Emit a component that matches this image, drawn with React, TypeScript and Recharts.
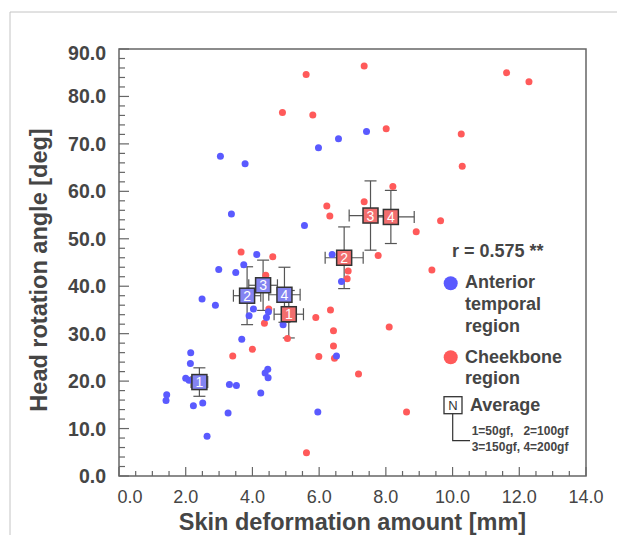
import { ErrorBar, ReferenceArea, Scatter, ScatterChart, XAxis, YAxis } from "recharts"

const FONT = "'Liberation Sans', Arial, sans-serif"
const TEXT = "#454545"

// Anterior temporal region, [skin deformation mm, head rotation deg]
const anteriorX = [
  6.58, 7.42, 5.98, 3.04, 3.78, 3.37, 5.56, 4.13, 6.39, 3.74, 2.99, 3.5, 6.67, 2.49, 2.89, 4.03, 3.9, 4.42, 4.48,
  4.92, 3.68, 6.52, 2.15, 2.14, 2.0, 2.1, 4.46, 4.38, 4.47, 3.31, 3.52, 4.25, 1.43, 1.41, 2.51, 2.23, 3.27, 5.96, 2.64,
]
const anteriorY = [
  71.1, 72.6, 69.2, 67.4, 65.8, 55.2, 52.8, 46.7, 46.7, 44.5, 43.5, 42.9, 41.0, 37.3, 36.0, 35.2, 33.8, 33.4, 34.6,
  31.9, 28.8, 25.3, 26.0, 23.7, 20.6, 20.2, 22.5, 21.7, 20.7, 19.3, 19.1, 17.5, 17.1, 15.9, 15.4, 14.8, 13.3, 13.5, 8.4,
]

// Cheekbone region
const cheekX = [
  7.35, 5.61, 11.62, 12.29, 4.9, 5.81, 8.01, 10.26, 10.29, 8.21, 7.35, 6.23, 6.32, 9.64, 8.91, 3.66, 4.61, 7.77, 6.87,
  6.84, 9.38, 4.4, 4.49, 4.36, 6.34, 5.9, 6.43, 6.43, 6.46, 5.99, 8.1, 5.05, 4.0, 3.41, 7.18, 8.62, 5.62,
]
const cheekY = [
  86.4, 84.6, 85.0, 83.1, 76.6, 76.1, 73.2, 72.1, 65.3, 61.0, 57.8, 56.9, 54.8, 53.8, 51.5, 47.2, 46.2, 46.5, 43.2,
  41.6, 43.4, 42.3, 35.2, 32.2, 35.0, 33.4, 30.6, 27.4, 24.8, 25.2, 31.4, 29.0, 26.7, 25.3, 21.5, 13.5, 4.9,
]

// averages per load: 1=50gf, 2=100gf, 3=150gf, 4=200gf
const loads = [1, 2, 3, 4]
const anteriorAvgX = [2.41, 3.84, 4.32, 4.96]
const anteriorAvgY = [19.8, 38.0, 40.2, 38.2]
const anteriorSdX = [0.25, 0.41, 0.43, 0.47]
const anteriorSdY = [3.0, 6.1, 5.3, 5.8]
const cheekAvgX = [5.09, 6.75, 7.54, 8.15]
const cheekAvgY = [34.1, 46.0, 54.9, 54.6]
const cheekSdX = [0.44, 0.57, 0.64, 0.7]
const cheekSdY = [5.0, 6.5, 7.3, 5.6]

const xTicks = [
  0, 0.5, 1, 1.5, 2, 2.5, 3, 3.5, 4, 4.5, 5, 5.5, 6, 6.5, 7, 7.5, 8, 8.5, 9, 9.5, 10, 10.5, 11, 11.5, 12, 12.5, 13,
  13.5, 14,
]
const xLabels = [0, 2, 4, 6, 8, 10, 12, 14]
const yTicks = [
  0, 2, 4, 6, 8, 10, 12, 14, 16, 18, 20, 22, 24, 26, 28, 30, 32, 34, 36, 38, 40, 42, 44, 46, 48, 50, 52, 54, 56, 58, 60,
  62, 64, 66, 68, 70, 72, 74, 76, 78, 80, 82, 84, 86, 88, 90,
]
const yLabels = [0, 10, 20, 30, 40, 50, 60, 70, 80, 90]

const anterior = anteriorX.map((x, i) => ({ x, y: anteriorY[i] }))
const cheek = cheekX.map((x, i) => ({ x, y: cheekY[i] }))
const anteriorAvg = loads.map((n, i) => ({
  n,
  x: anteriorAvgX[i],
  y: anteriorAvgY[i],
  ex: anteriorSdX[i],
  ey: anteriorSdY[i],
}))
const cheekAvg = loads.map((n, i) => ({ n, x: cheekAvgX[i], y: cheekAvgY[i], ex: cheekSdX[i], ey: cheekSdY[i] }))

const XTick = (props: any) => {
  const { x, y, payload } = props
  const v = payload.value
  const major = xLabels.includes(v)
  return (
    <g>
      <line x1={x} x2={x} y1={y} y2={y - (major ? 9 : 5)} stroke="#666" strokeWidth={1.2} />
      {major && (
        <text x={x + (v === 0 ? 11 : 0)} y={y + 27} textAnchor="middle" fontSize={18} fill={TEXT} fontFamily={FONT}>
          {v.toFixed(1)}
        </text>
      )}
    </g>
  )
}

const YTick = (props: any) => {
  const { x, y, payload } = props
  const v = payload.value
  const major = yLabels.includes(v)
  return (
    <g>
      <line x1={x} x2={x + (major ? 10 : 6)} y1={y} y2={y} stroke="#666" strokeWidth={1.2} />
      {major && (
        <text
          x={x - 13}
          y={y + 7 + (v === 90 ? 4 : 0)}
          textAnchor="end"
          fontSize={19.5}
          fontWeight="bold"
          fill={TEXT}
          fontFamily={FONT}
        >
          {v.toFixed(1)}
        </text>
      )}
    </g>
  )
}

const dot = (color: string) => (p: any) => <circle cx={p.cx} cy={p.cy} r={3.5} fill={color} />

const avgBox = (fill: string) => (p: any) => (
  <g>
    <rect x={p.cx - 7.5} y={p.cy - 7.5} width={15} height={15} fill={fill} stroke="#333" strokeWidth={1.5} />
    <text x={p.cx} y={p.cy + 5} textAnchor="middle" fontSize={14} fill="#fff" fontFamily={FONT}>
      {p.payload.n}
    </text>
  </g>
)

function Legend() {
  const t = { fontFamily: FONT, fontWeight: "bold" as const, fill: TEXT }
  return (
    <svg width={609} height={527} style={{ position: "absolute", left: 0, top: 0, pointerEvents: "none" }}>
      <line x1={2} y1={4} x2={609} y2={4} stroke="#c4c4c4" strokeWidth={1} />
      <line x1={2} y1={4} x2={2} y2={527} stroke="#c4c4c4" strokeWidth={1} />
      <text x={444} y={249} fontSize={18} {...t}>
        r = 0.575 **
      </text>
      <circle cx={442.7} cy={275.3} r={7} fill="#5a5aff" />
      <text x={457} y={280} fontSize={18} {...t}>
        Anterior
      </text>
      <text x={457} y={302} fontSize={18} {...t}>
        temporal
      </text>
      <text x={457} y={324} fontSize={18} {...t}>
        region
      </text>
      <circle cx={442.7} cy={349.3} r={7} fill="#ff5a5a" />
      <text x={457} y={354.7} fontSize={18} {...t}>
        Cheekbone
      </text>
      <text x={457} y={376} fontSize={18} {...t}>
        region
      </text>
      <rect x={436} y={388.7} width={18} height={17} fill="#fff" stroke="#333" strokeWidth={1.3} />
      <text x={445} y={402} textAnchor="middle" fontSize={13} fill="#333" fontFamily={FONT}>
        N
      </text>
      <polyline points="444.7,405.7 444.7,432.7 462,432.7" fill="none" stroke="#333" strokeWidth={1.2} />
      <text x={462} y={403} fontSize={18} {...t}>
        Average
      </text>
      <text x={463.7} y={427} fontSize={12} {...t} style={{ whiteSpace: "pre" }}>
        {"1=50gf,   2=100gf"}
      </text>
      <text x={463.7} y={442.7} fontSize={12} {...t}>
        3=150gf, 4=200gf
      </text>
    </svg>
  )
}

export default function App() {
  return (
    <div style={{ position: "absolute", left: 8, top: 8, width: 609, height: 527, overflow: "hidden" }}>
      <ScatterChart width={609} height={527} margin={{ top: 41, right: 31, left: 0, bottom: 9 }}>
        <XAxis
          type="number"
          dataKey="x"
          domain={[0, 14]}
          ticks={xTicks}
          interval={0}
          axisLine={false}
          tickLine={false}
          tickSize={0}
          tickMargin={0}
          height={50}
          tick={<XTick />}
          label={{
            content: (p: any) => (
              <text
                x={p.viewBox.x + p.viewBox.width / 2}
                y={p.viewBox.y + 54}
                textAnchor="middle"
                fontSize={23.5}
                fontWeight="bold"
                fill={TEXT}
                fontFamily={FONT}
              >
                Skin deformation amount [mm]
              </text>
            ),
          }}
        />
        <YAxis
          type="number"
          dataKey="y"
          domain={[0, 90]}
          ticks={yTicks}
          interval={0}
          axisLine={false}
          tickLine={false}
          tickSize={0}
          tickMargin={0}
          width={111}
          tick={<YTick />}
          label={{
            content: () => (
              <text
                x={38.7}
                y={262}
                transform="rotate(-90 38.7 262)"
                textAnchor="middle"
                fontSize={23.5}
                fontWeight="bold"
                fill={TEXT}
                fontFamily={FONT}
              >
                Head rotation angle [deg]
              </text>
            ),
          }}
        />
        <ReferenceArea x1={0} x2={14} y1={0} y2={90} fill="none" stroke="#666" strokeWidth={1.5} />
        <Scatter data={cheek} shape={dot("#ff5a5a")} isAnimationActive={false} />
        <Scatter data={anterior} shape={dot("#5a5aff")} isAnimationActive={false} />
        <Scatter data={anteriorAvg} shape={avgBox("#8484f2")} isAnimationActive={false}>
          <ErrorBar dataKey="ex" direction="x" width={6} stroke="#555" strokeWidth={1.2} />
          <ErrorBar dataKey="ey" direction="y" width={6} stroke="#555" strokeWidth={1.2} />
        </Scatter>
        <Scatter data={cheekAvg} shape={avgBox("#f26e6e")} isAnimationActive={false}>
          <ErrorBar dataKey="ex" direction="x" width={6} stroke="#555" strokeWidth={1.2} />
          <ErrorBar dataKey="ey" direction="y" width={6} stroke="#555" strokeWidth={1.2} />
        </Scatter>
      </ScatterChart>
      <Legend />
    </div>
  )
}
